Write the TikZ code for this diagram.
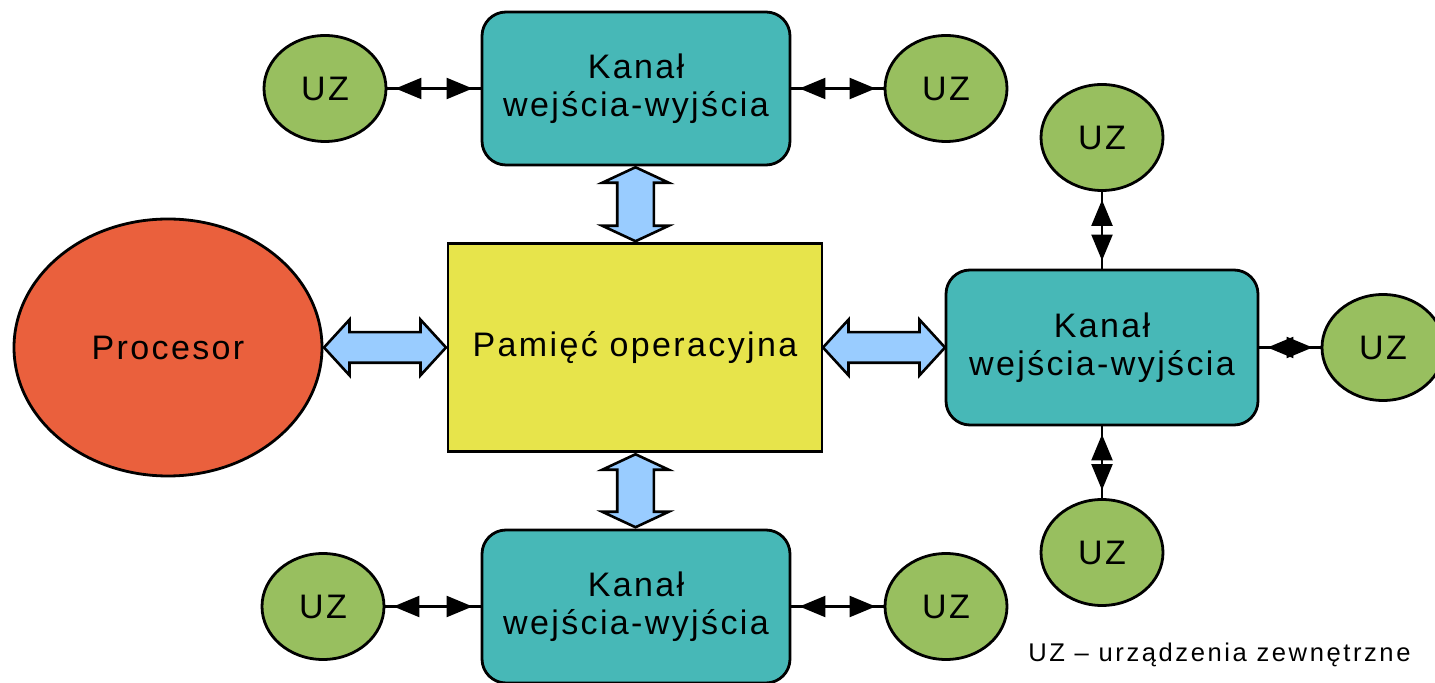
\documentclass[tikz,border=0pt]{standalone}
\usepackage{fontspec}
\setmainfont{Liberation Sans}[LetterSpace=7]
\newfontfamily\legendfont{Liberation Sans}[LetterSpace=10]
\usetikzlibrary{shapes.geometric, shapes.arrows, arrows.meta, decorations.markings}

\definecolor{chanteal}{HTML}{47B8B7}
\definecolor{uzgreen}{HTML}{98BF5F}
\definecolor{procred}{HTML}{EA603D}
\definecolor{memyellow}{HTML}{E7E44B}
\definecolor{busblue}{HTML}{99CCFF}

\tikzset{
    channel/.style={draw, line width=1.4pt, fill=chanteal, rounded corners=12pt, align=center,
        minimum width=154pt, minimum height=76.5pt, font=\fontsize{17}{19}\selectfont},
    uz/.style={ellipse, draw, line width=1.4pt, fill=uzgreen, inner sep=0pt,
        minimum width=61pt, minimum height=53pt, font=\fontsize{17}{19}\selectfont},
    busarrow/.style={double arrow, draw, line width=1.3pt, fill=busblue, inner xsep=0pt,
        text height=0pt, text depth=0pt},
    uzlink/.style={line width=1.1pt,
        decoration={markings,
            mark=at position 4pt with {\arrowreversed{Triangle[length=13pt,width=10.5pt]}},
            mark=at position -4pt with {\arrow{Triangle[length=13pt,width=10.5pt]}}},
        postaction={decorate}}
}

\begin{document}
\begin{tikzpicture}[x=0.5pt, y=-0.5pt]
    \useasboundingbox (0,0) rectangle (1435,683);

    % Memory
    \node[draw, line width=1.4pt, fill=memyellow, minimum width=187pt, minimum height=104pt,
        font=\fontsize{17}{19}\selectfont] (mem) at (635,347.5) {Pamięć operacyjna};

    % Processor
    \node[ellipse, draw, line width=1.4pt, fill=procred, minimum width=154pt, minimum height=128.5pt,
        font=\fontsize{17}{19}\selectfont] (proc) at (168,347.5) {Procesor};

    % Channels
    \node[channel] (chtop) at (636,88.5) {Kanał\\wejścia-wyjścia};
    \node[channel] (chbot) at (636,606.5) {Kanał\\wejścia-wyjścia};
    \node[channel, minimum width=156pt, minimum height=77.5pt] (chright) at (1102,347.5) {Kanał\\wejścia-wyjścia};

    % Devices
    \node[uz] (uztl) at (325,88.5) {UZ};
    \node[uz] (uztr) at (946,88.5) {UZ};
    \node[uz] (uzbl) at (323,606.5) {UZ};
    \node[uz] (uzbr) at (946,606.5) {UZ};
    \node[uz] (uzrt) at (1102,137.5) {UZ};
    \node[uz] (uzrb) at (1102,552.5) {UZ};
    \node[uz] (uzrr) at (1383,347.5) {UZ};

    % Buses
    \path (proc.east) -- node[busarrow, minimum height=61pt, minimum width=26.5pt, inner ysep=7pt,
        double arrow head extend=6.25pt, double arrow tip angle=95] (busleft) {} (mem.west);
    \path (mem.east) -- node[busarrow, minimum height=61pt, minimum width=26.5pt, inner ysep=7pt,
        double arrow head extend=6.25pt, double arrow tip angle=95] (busright) {} (chright.west);
    \path (chtop.south) -- node[busarrow, rotate=90, minimum height=37pt, minimum width=32pt, inner ysep=8.5pt,
        double arrow head extend=7.5pt, double arrow tip angle=130] (bustop) {} (mem.north);
    \path (mem.south) -- node[busarrow, rotate=90, minimum height=36.5pt, minimum width=32pt, inner ysep=8.5pt,
        double arrow head extend=7.5pt, double arrow tip angle=130] (busbot) {} (chbot.north);

    % Device links
    \draw[uzlink] (uztl.east) -- (chtop.west);
    \draw[uzlink] (chtop.east) -- (uztr.west);
    \draw[uzlink] (uzbl.east) -- (chbot.west);
    \draw[uzlink] (chbot.east) -- (uzbr.west);
    \draw[uzlink] (uzrt.south) -- (chright.north);
    \draw[uzlink] (chright.south) -- (uzrb.north);
    \draw[uzlink] (chright.east) -- (uzrr.west);

    % Legend
    \node[anchor=west, inner sep=0pt, font=\legendfont\fontsize{12.8}{14}\selectfont] (legend) at (1028,655)
        {UZ – urządzenia zewnętrzne};
\end{tikzpicture}
\end{document}
